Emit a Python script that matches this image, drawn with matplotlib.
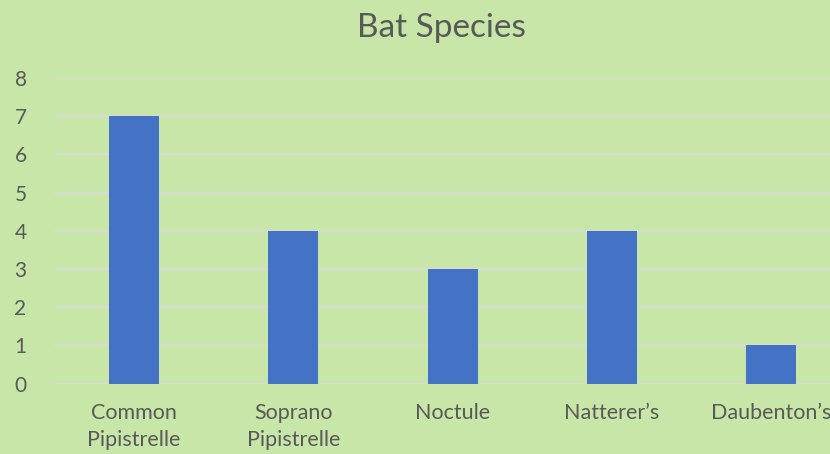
import matplotlib.pyplot as plt

species = ["Common\nPipistrelle", "Soprano\nPipistrelle", "Noctule", "Natterer\u2019s", "Daubenton\u2019s"]
counts = [7, 4, 3, 4, 1]

bg = "#C8E6A7"
txt = "#595959"

plt.rcParams['font.family'] = ['Lato', 'DejaVu Sans']

fig = plt.figure(figsize=(8.3, 4.54), dpi=100, facecolor=bg)
# plot area runs off the right edge, like the cropped original
ax = fig.add_axes([54.4 / 830, 1 - 383.5 / 454, 796.5 / 830, 305.5 / 454])
ax.set_facecolor(bg)

x = list(range(len(species)))
ax.bar(x, counts, width=0.315, color="#4472C4", zorder=3)

ax.set_xlim(-0.5, 4.5)
ax.set_ylim(0, 8)
ax.set_yticks(range(0, 9))
ax.grid(axis='y', color="#D9D9D9", linewidth=1.3, zorder=0)
for s in ax.spines.values():
    s.set_visible(False)
ax.axhline(0, color="#D9D9D9", linewidth=1.3, zorder=1)

ax.set_xticks(x)
ax.set_xticklabels(species, fontsize=15.5, color=txt, linespacing=1.45)
ax.tick_params(axis='x', length=0, pad=14)
ax.tick_params(axis='y', length=0, pad=20, labelsize=15, labelcolor=txt)

fig.text(441 / 830, 1 - 28 / 454, "Bat Species", ha='center', va='center',
         fontsize=24, color=txt)

fig.savefig("out.png", dpi=100, facecolor=bg)
